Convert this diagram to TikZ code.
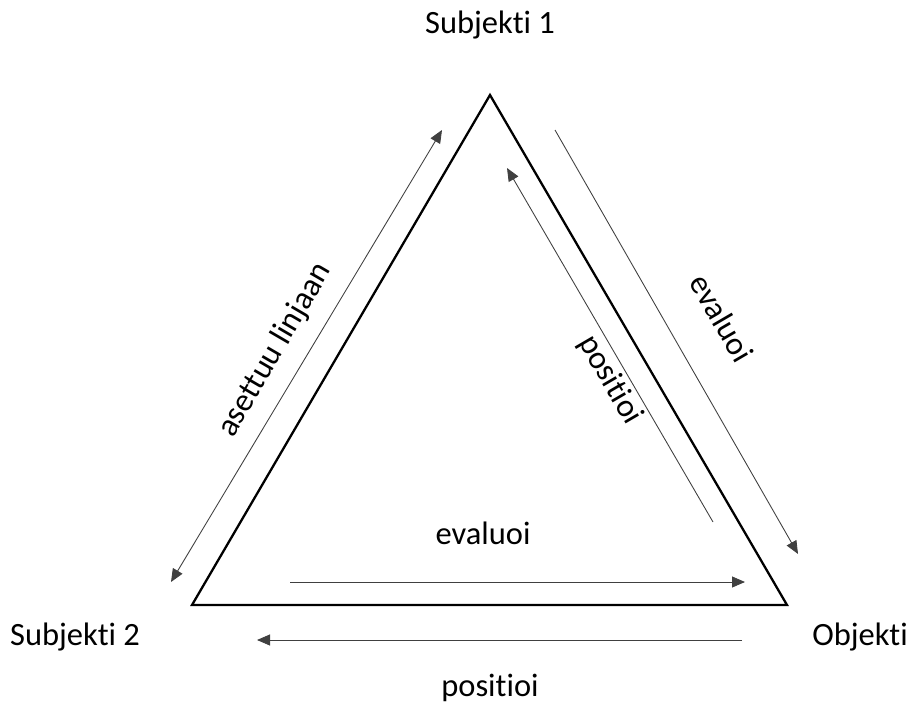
\documentclass[tikz,border=0pt]{standalone}
\usepackage{fontspec}
\setmainfont{Carlito}[Ligatures=NoCommon]
\usetikzlibrary{arrows.meta}
\begin{document}
\begin{tikzpicture}[x=0.02cm,y=-0.02cm,
    font=\fontsize{18.5}{22}\selectfont, inner sep=1pt,
    side/.style={line width=1.3pt, line join=miter},
    flow/.style={line width=0.5pt, draw=black!75, -{Triangle[length=2.6mm,width=2.2mm]}},
    twoway/.style={line width=0.5pt, draw=black!75, {Triangle[length=2.6mm,width=2.2mm]}-{Triangle[length=2.6mm,width=2.2mm]}}]
            \useasboundingbox (0,0) rectangle (912,702);

            % triangle
            \coordinate (s1) at (490,95);
            \coordinate (s2) at (192,605);
            \coordinate (obj) at (787,605);
            \draw [side] (s1)--(s2)--(obj)--cycle;

            % arrow ends
            \coordinate (la) at (171,582);
            \coordinate (lb) at (442,130);
            \coordinate (ra) at (555,130);
            \coordinate (rb) at (798,554);
            \coordinate (ia) at (713,522);
            \coordinate (ib) at (507,168);
            \coordinate (ba) at (290,582);
            \coordinate (bb) at (745,582);
            \coordinate (oa) at (742,640);
            \coordinate (ob) at (257,640);

            \draw [twoway] (la)--(lb);
            \draw [flow] (ra)--(rb);
            \draw [flow] (ia)--(ib);
            \draw [flow] (ba)--(bb);
            \draw [flow] (oa)--(ob);

            \node (subj1) at (490,25){Subjekti 1};
            \node (subj2) at (75,637){Subjekti 2};
            \node (objekti) at (860,637){Objekti};
            \node[rotate=59.7] (linjaan) at (275,350){asettuu linjaan};
            \node[rotate=-59.7] (evalr) at (722,318){evaluoi};
            \node[rotate=-59.7] (posr) at (610,380){positioi};
            \node (evalb) at (483,533){evaluoi};
            \node (posb) at (490,688){positioi};

        \end{tikzpicture}
\end{document}
